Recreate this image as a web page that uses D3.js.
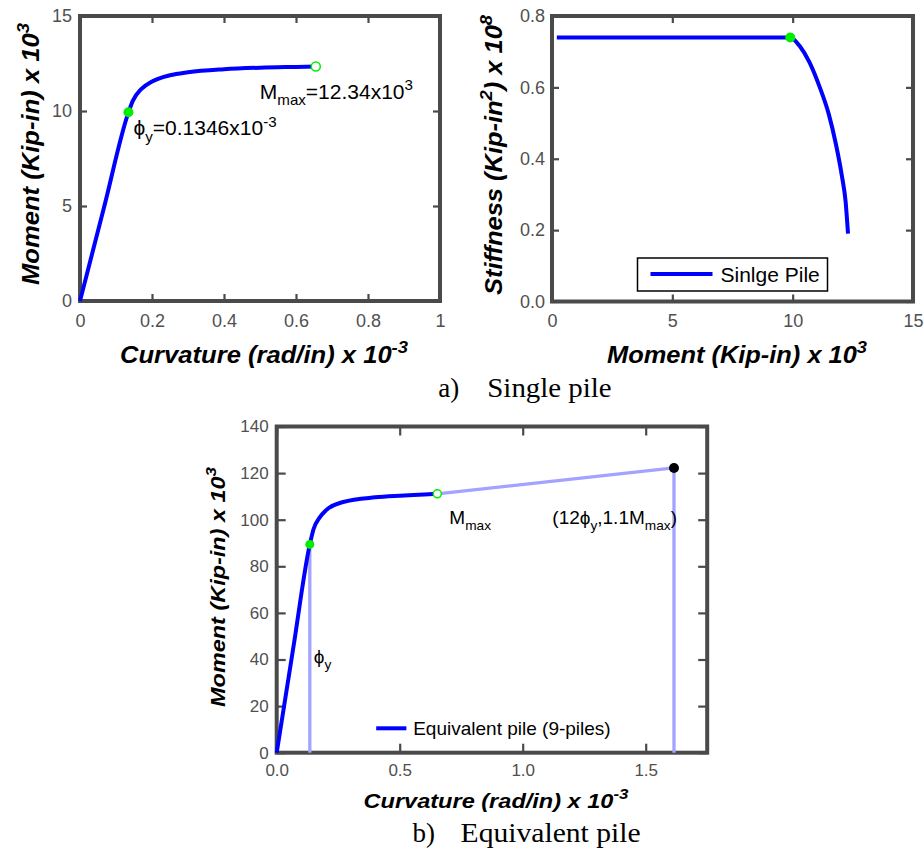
<!DOCTYPE html>
<html>
<head>
<meta charset="utf-8">
<script src="https://cdn.jsdelivr.net/npm/d3@7"></script>
<style>
  html, body { margin: 0; padding: 0; background: #fff; }
  svg { display: block; }
</style>
</head>
<body>
<svg id="chart" width="924" height="850"></svg>
<script>
// ---------------- DATA ----------------
// (a) Single pile: moment-curvature
const singleCurvature = [0, 0.067, 0.1346, 0.147, 0.17, 0.2, 0.25, 0.3, 0.4, 0.5, 0.6, 0.655];
const singleMoment    = [0, 4.95, 9.93, 10.55, 11.15, 11.55, 11.88, 12.04, 12.2, 12.28, 12.32, 12.34];
const singleYield = {curv: 0.1346, mom: 9.93};
const singleMax   = {curv: 0.655, mom: 12.34};

// (a) Single pile: stiffness-moment
const stiffMoment = [0.2, 9.9, 10.3, 10.7, 11.1, 11.5, 11.8, 12.05, 12.2, 12.3];
const stiffValue  = [0.74, 0.74, 0.715, 0.67, 0.605, 0.525, 0.44, 0.35, 0.28, 0.19];
const stiffYield = {mom: 9.9, stiff: 0.74};

// (b) Equivalent pile (9 piles)
const eqCurvature = [0, 0.067, 0.1346, 0.15, 0.175, 0.2, 0.27, 0.4, 0.5, 0.6, 0.653];
const eqMoment    = [0, 44.7, 89.4, 96, 101, 104, 107.6, 109.6, 110.3, 110.8, 111.1];
const eqYield = {curv: 0.1346, mom: 89.4};
const eqMax   = {curv: 0.653, mom: 111.1};
const eqUlt   = {curv: 1.615, mom: 122.2};   // (12 phi_y, 1.1 Mmax)

// Tick values
const aLeftXTicks  = [0, 0.2, 0.4, 0.6, 0.8, 1];
const aLeftYTicks  = [0, 5, 10, 15];
const aRightXTicks = [0, 5, 10, 15];
const aRightYTicks = [0, 0.2, 0.4, 0.6, 0.8];
const bXTicks = [0, 0.5, 1.0, 1.5];
const bYTicks = [0, 20, 40, 60, 80, 100, 120, 140];

// ---------------- DRAW ----------------
const svg = d3.select("#chart");
const SANS = "'Liberation Sans', Arial, Helvetica, sans-serif";
const SERIF = "'Liberation Serif', 'Times New Roman', serif";
const FRAME = "#4a4a4a";
const TICKTXT = "#505050";
const BLUE = "#0000ff";
const LIGHT = "#a3a3ff";
const GREEN = "#00ee00";

function panel(o) {
  const g = svg.append("g").attr("transform", `translate(${o.left},${o.top})`);
  const x = d3.scaleLinear().domain(o.xDomain).range([0, o.w]);
  const y = d3.scaleLinear().domain(o.yDomain).range([o.h, 0]);
  const tl = o.tickLen;

  const bottom = g.append("g").attr("transform", `translate(0,${o.h})`)
    .call(d3.axisBottom(x).tickValues(o.xTicks).tickFormat(o.xFmt).tickSizeInner(-tl).tickSizeOuter(0).tickPadding(o.xPad));
  const left = g.append("g")
    .call(d3.axisLeft(y).tickValues(o.yTicks).tickFormat(o.yFmt).tickSizeInner(-tl).tickSizeOuter(0).tickPadding(o.yPad));
  const top = g.append("g")
    .call(d3.axisTop(x).tickValues(o.xTicks).tickFormat("").tickSizeInner(-tl).tickSizeOuter(0));
  const right = g.append("g").attr("transform", `translate(${o.w},0)`)
    .call(d3.axisRight(y).tickValues(o.yTicks).tickFormat("").tickSizeInner(-tl).tickSizeOuter(0));
  [bottom, left, top, right].forEach(a => {
    a.select(".domain").remove();
    a.selectAll(".tick line").attr("stroke", FRAME).attr("stroke-width", 2.2);
    a.selectAll(".tick text").attr("fill", TICKTXT).style("font-family", SANS).style("font-size", o.tickFont + "px");
  });
  g.append("rect").attr("x", 0).attr("y", 0).attr("width", o.w).attr("height", o.h)
    .attr("fill", "none").attr("stroke", FRAME).attr("stroke-width", 4);
  return {g, x, y};
}

function richText(sel, parts, size) {
  let cur = 0;
  parts.forEach(([t, m]) => {
    let target = m === "sup" ? -0.42 * size : (m === "sub" ? 0.3 * size : 0);
    const ts = sel.append("tspan").text(t).attr("dy", target - cur);
    if (m !== "n") ts.style("font-size", (size * 0.72) + "px");
    cur = target;
  });
}

// ---- Panel a-left ----
const A = panel({left: 80, top: 16, w: 360, h: 285,
  xDomain: [0, 1], yDomain: [0, 15], xTicks: aLeftXTicks, yTicks: aLeftYTicks,
  xFmt: d3.format("~g"), yFmt: d3.format("~g"), tickLen: 7, xPad: 13, yPad: 8, tickFont: 18});
const lineA = d3.line().x(d => A.x(d[0])).y(d => A.y(d[1])).curve(d3.curveMonotoneX);
A.g.append("path").datum(d3.zip(singleCurvature, singleMoment)).attr("d", lineA)
  .attr("fill", "none").attr("stroke", BLUE).attr("stroke-width", 4).attr("stroke-linejoin", "round");
A.g.append("circle").attr("cx", A.x(singleYield.curv)).attr("cy", A.y(singleYield.mom)).attr("r", 5).attr("fill", GREEN);
A.g.append("circle").attr("cx", A.x(singleMax.curv)).attr("cy", A.y(singleMax.mom)).attr("r", 4.5)
  .attr("fill", "#fff").attr("stroke", GREEN).attr("stroke-width", 1.5);
{
  const t = A.g.append("text").attr("x", A.x(singleYield.curv) + 5).attr("y", A.y(singleYield.mom) + 23)
    .style("font-family", SANS).style("font-size", "21px").attr("fill", "#000");
  richText(t, [["ϕ", "n"], ["y", "sub"], ["=0.1346x10", "n"], ["-3", "sup"]], 21);
  const t2 = A.g.append("text").attr("x", A.x(singleMax.curv) - 56).attr("y", A.y(singleMax.mom) + 32)
    .style("font-family", SANS).style("font-size", "21px").attr("fill", "#000");
  richText(t2, [["M", "n"], ["max", "sub"], ["=12.34x10", "n"], ["3", "sup"]], 21);
}

// ---- Panel a-right ----
const B = panel({left: 552, top: 16, w: 361, h: 285.5,
  xDomain: [0, 15], yDomain: [0, 0.8], xTicks: aRightXTicks, yTicks: aRightYTicks,
  xFmt: d3.format("~g"), yFmt: d3.format(".1f"), tickLen: 7, xPad: 13, yPad: 7, tickFont: 18});
const lineB = d3.line().x(d => B.x(d[0])).y(d => B.y(d[1])).curve(d3.curveMonotoneX);
B.g.append("path").datum(d3.zip(stiffMoment, stiffValue)).attr("d", lineB)
  .attr("fill", "none").attr("stroke", BLUE).attr("stroke-width", 4).attr("stroke-linejoin", "round");
B.g.append("circle").attr("cx", B.x(stiffYield.mom)).attr("cy", B.y(stiffYield.stiff)).attr("r", 5).attr("fill", GREEN);
{
  const lg = B.g.append("g");
  lg.append("rect").attr("x", 85.5).attr("y", 242).attr("width", 190).attr("height", 33)
    .attr("fill", "#fff").attr("stroke", "#000").attr("stroke-width", 1.5);
  lg.append("line").attr("x1", 98.5).attr("x2", 160.5).attr("y1", 258).attr("y2", 258)
    .attr("stroke", BLUE).attr("stroke-width", 4);
  lg.append("text").attr("x", 168.5).attr("y", 265.5).text("Sinlge Pile")
    .style("font-family", SANS).style("font-size", "21px").attr("fill", "#000");
}

// ---- Panel b ----
const C = panel({left: 276.7, top: 426.5, w: 430.5, h: 326.2,
  xDomain: [0, 1.75], yDomain: [0, 140], xTicks: bXTicks, yTicks: bYTicks,
  xFmt: d3.format(".1f"), yFmt: d3.format("~g"), tickLen: 9, xPad: 11, yPad: 8, tickFont: 17});
const lineC = d3.line().x(d => C.x(d[0])).y(d => C.y(d[1])).curve(d3.curveMonotoneX);
const lightLines = [
  [[eqYield.curv, 0], [eqYield.curv, eqYield.mom]],
  [[eqUlt.curv, 0], [eqUlt.curv, eqUlt.mom]],
  [[eqMax.curv, eqMax.mom], [eqUlt.curv, eqUlt.mom]]
];
lightLines.forEach(seg => {
  C.g.append("line").attr("x1", C.x(seg[0][0])).attr("y1", C.y(seg[0][1]))
    .attr("x2", C.x(seg[1][0])).attr("y2", C.y(seg[1][1]))
    .attr("stroke", LIGHT).attr("stroke-width", 3.3);
});
C.g.append("path").datum(d3.zip(eqCurvature, eqMoment)).attr("d", lineC)
  .attr("fill", "none").attr("stroke", BLUE).attr("stroke-width", 4).attr("stroke-linejoin", "round");
C.g.append("circle").attr("cx", C.x(eqYield.curv)).attr("cy", C.y(eqYield.mom)).attr("r", 4.5).attr("fill", GREEN);
C.g.append("circle").attr("cx", C.x(eqMax.curv)).attr("cy", C.y(eqMax.mom)).attr("r", 4)
  .attr("fill", "#fff").attr("stroke", GREEN).attr("stroke-width", 1.5);
C.g.append("circle").attr("cx", C.x(eqUlt.curv)).attr("cy", C.y(eqUlt.mom)).attr("r", 5).attr("fill", "#000");
{
  const t1 = C.g.append("text").attr("x", C.x(eqYield.curv) + 4).attr("y", C.y(38.5))
    .style("font-family", SANS).style("font-size", "19px").attr("fill", "#000");
  richText(t1, [["ϕ", "n"], ["y", "sub"]], 19);
  const t2 = C.g.append("text").attr("x", C.x(eqMax.curv) + 12).attr("y", C.y(eqMax.mom) + 30)
    .style("font-family", SANS).style("font-size", "19px").attr("fill", "#000");
  richText(t2, [["M", "n"], ["max", "sub"]], 19);
  const t3 = C.g.append("text").attr("x", C.x(eqUlt.curv) + 3).attr("y", C.y(eqMax.mom) + 30)
    .attr("text-anchor", "end")
    .style("font-family", SANS).style("font-size", "19px").attr("fill", "#000");
  richText(t3, [["(12ϕ", "n"], ["y", "sub"], [",1.1M", "n"], ["max", "sub"], [")", "n"]], 19);
  C.g.append("line").attr("x1", 99.5).attr("x2", 129.7).attr("y1", 301.8).attr("y2", 301.8)
    .attr("stroke", BLUE).attr("stroke-width", 4);
  C.g.append("text").attr("x", 136.5).attr("y", 308.5).text("Equivalent pile (9-piles)")
    .style("font-family", SANS).style("font-size", "19px").attr("fill", "#000");
}

// ---- Axis titles ----
function title(x, y, rot, parts, size, len) {
  const t = svg.append("text")
    .attr("transform", `translate(${x},${y}) rotate(${rot})`)
    .attr("text-anchor", "middle")
    .attr("textLength", len).attr("lengthAdjust", "spacingAndGlyphs")
    .style("font-family", SANS).style("font-weight", "bold").style("font-style", "italic")
    .style("font-size", size + "px").attr("fill", "#000");
  richText(t, parts, size);
}
title(264, 363, 0, [["Curvature (rad/in) x 10", "n"], ["-3", "sup"]], 23, 288);
title(39, 154, -90, [["Moment (Kip-in) x 10", "n"], ["3", "sup"]], 23, 262);
title(737, 363, 0, [["Moment (Kip-in) x 10", "n"], ["3", "sup"]], 23, 260);
title(502, 155, -90, [["Stiffness (Kip-in", "n"], ["2", "sup"], [") x 10", "n"], ["8", "sup"]], 23, 280);
title(496, 808, 0, [["Curvature (rad/in) x 10", "n"], ["-3", "sup"]], 21, 265);
title(225, 587, -90, [["Moment (Kip-in) x 10", "n"], ["3", "sup"]], 21, 240);

// ---- Captions ----
function caption(xl, xt, y, label, txt, len) {
  svg.append("text").attr("x", xl).attr("y", y).text(label)
    .style("font-family", SERIF).style("font-size", "27px").attr("fill", "#000");
  svg.append("text").attr("x", xt).attr("y", y).text(txt)
    .attr("textLength", len).attr("lengthAdjust", "spacingAndGlyphs")
    .style("font-family", SERIF).style("font-size", "27px").attr("fill", "#000");
}
caption(438.3, 487.3, 397, "a)", "Single pile", 124.4);
caption(412.5, 460.6, 842, "b)", "Equivalent pile", 180);
</script>
</body>
</html>
